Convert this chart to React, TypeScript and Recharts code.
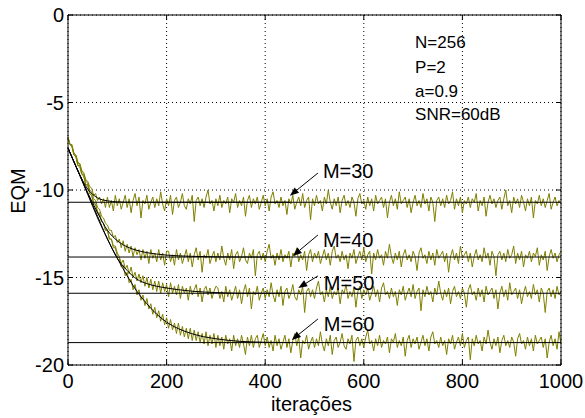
import React from 'react';
import { ComposedChart, Line, XAxis, YAxis, CartesianGrid, ReferenceLine, ReferenceDot } from 'recharts';

// iteration grid (every 4 iterations)
const ITERATIONS: number[] = Array.from({ length: 251 }, (_, i) => i * 4);
const X_TICKS = [0, 200, 400, 600, 800, 1000];
const Y_TICKS = [-20, -15, -10, -5, 0];

const M30_EQM = [
  -7.0, -7.4, -7.4, -7.9, -8.0, -8.4, -8.5, -8.9, -9.0, -9.4, -9.5, -9.8, -9.9, -10.3, -10.2, -10.6, -10.4, -10.8, -10.5, -11.0,
  -10.4, -11.0, -10.6, -11.2, -10.3, -10.9, -10.5, -11.1, -10.7, -10.3,
  -11.0, -10.5, -11.3, -10.6, -10.2, -10.9, -10.4, -11.6, -10.6, -10.8,
  -10.3, -11.1, -10.7, -10.4, -11.0, -10.5, -10.9, -10.1, -10.8, -11.2,
  -10.5, -10.9, -10.3, -11.4, -10.6, -10.4, -11.0, -10.7, -10.2, -10.9,
  -11.1, -10.5, -10.8, -10.3, -11.8, -10.6, -10.4, -10.9, -10.5, -11.0,
  -10.4, -10.0, -10.8, -10.6, -11.2, -10.5, -10.9, -10.3, -11.0, -10.6,
  -10.8, -10.4, -11.3, -10.5, -10.7, -10.2, -11.0, -10.6, -10.9, -10.4,
  -11.5, -10.6, -10.3, -11.0, -10.5, -10.8, -10.4, -11.1, -10.7, -10.3,
  -10.9, -10.5, -11.2, -10.4, -10.1, -10.8, -10.6, -11.0, -10.4, -10.9,
  -10.6, -11.4, -10.5, -10.8, -10.3, -11.1, -10.7, -10.4, -10.9, -10.2,
  -11.0, -10.6, -10.4, -11.7, -10.5, -10.9, -10.3, -10.8, -10.6, -11.2,
  -10.4, -10.8, -10.0, -10.7, -11.1, -10.5, -10.9, -10.4, -11.3, -10.6,
  -10.3, -10.9, -10.6, -11.0, -10.4, -10.7, -11.5, -10.5, -10.2, -10.8,
  -10.6, -11.1, -10.4, -10.9, -10.5, -11.2, -10.3, -10.8, -10.6, -10.4,
  -11.0, -10.5, -11.6, -10.7, -10.3, -10.9, -10.5, -11.1, -10.1, -10.8,
  -10.6, -10.4, -11.0, -10.5, -11.3, -10.7, -10.3, -10.9, -10.6, -11.0,
  -10.2, -10.8, -10.5, -11.2, -10.4, -10.7, -11.8, -10.6, -10.4, -10.9,
  -10.5, -11.0, -10.3, -10.8, -10.6, -10.1, -11.1, -10.5, -10.9, -10.4,
  -11.3, -10.6, -10.8, -10.4, -11.0, -10.5, -10.7, -10.2, -11.2, -10.6,
  -10.9, -10.4, -11.5, -10.7, -10.3, -10.8, -10.5, -11.0, -10.6, -10.4,
  -11.1, -10.5, -10.0, -10.9, -10.6, -11.3, -10.4, -10.8, -10.5, -11.0,
  -10.3, -10.7, -11.2, -10.5, -10.9, -10.4, -11.6, -10.6, -10.8, -10.3,
  -10.9, -10.5, -11.0, -10.6, -10.2, -11.1, -10.7, -10.4, -10.9, -10.6,
  -10.8,
];

const M40_EQM = [
  -7.0, -7.4, -7.5, -7.9, -8.0, -8.5, -8.5, -9.0, -9.1, -9.5, -9.6, -10.0, -10.1,
  -10.5, -10.6, -11.0, -11.1, -11.5, -11.6, -11.9, -12.0, -12.3, -12.3, -12.7, -12.6, -13.0,
  -12.8, -13.3, -12.9, -13.5, -13.1, -13.6, -13.2, -13.8, -13.3, -13.7, -13.4, -14.0, -13.4,
  -13.9, -13.5, -14.2, -13.4, -13.9, -13.6, -14.1, -13.4, -14.0, -13.6, -14.3, -13.5,
  -13.5, -14.1, -13.7, -14.3, -13.4, -14.0, -13.6, -14.2, -13.8, -13.4,
  -14.1, -13.6, -14.4, -13.7, -13.3, -14.0, -13.5, -14.7, -13.7, -13.9,
  -13.4, -14.2, -13.8, -13.5, -14.1, -13.6, -14.0, -13.2, -13.9, -14.3,
  -13.6, -14.0, -13.4, -14.5, -13.7, -13.5, -14.1, -13.8, -13.3, -14.0,
  -14.2, -13.6, -13.9, -13.4, -14.9, -13.7, -13.5, -14.0, -13.6, -14.1,
  -13.5, -13.1, -13.9, -13.7, -14.3, -13.6, -14.0, -13.4, -14.1, -13.7,
  -13.9, -13.5, -14.4, -13.6, -13.8, -13.3, -14.1, -13.7, -14.0, -13.5,
  -14.6, -13.7, -13.4, -14.1, -13.6, -13.9, -13.5, -14.2, -13.8, -13.4,
  -14.0, -13.6, -14.3, -13.5, -13.2, -13.9, -13.7, -14.1, -13.5, -14.0,
  -13.7, -14.5, -13.6, -13.9, -13.4, -14.2, -13.8, -13.5, -14.0, -13.3,
  -14.1, -13.7, -13.5, -14.8, -13.6, -14.0, -13.4, -13.9, -13.7, -14.3,
  -13.5, -13.9, -13.1, -13.8, -14.2, -13.6, -14.0, -13.5, -14.4, -13.7,
  -13.4, -14.0, -13.7, -14.1, -13.5, -13.8, -14.6, -13.6, -13.3, -13.9,
  -13.7, -14.2, -13.5, -14.0, -13.6, -14.3, -13.4, -13.9, -13.7, -13.5,
  -14.1, -13.6, -14.7, -13.8, -13.4, -14.0, -13.6, -14.2, -13.2, -13.9,
  -13.7, -13.5, -14.1, -13.6, -14.4, -13.8, -13.4, -14.0, -13.7, -14.1,
  -13.3, -13.9, -13.6, -14.3, -13.5, -13.8, -14.9, -13.7, -13.5, -14.0,
  -13.6, -14.1, -13.4, -13.9, -13.7, -13.2, -14.2, -13.6, -14.0, -13.5,
  -14.4, -13.7, -13.9, -13.5, -14.1, -13.6, -13.8, -13.3, -14.3, -13.7,
  -14.0, -13.5, -14.6, -13.8, -13.4, -13.9, -13.6, -14.1, -13.7, -13.5,
];

const M50_EQM = [
  -7.0, -7.4, -7.5, -8.0, -8.1, -8.6, -8.7, -9.1, -9.2, -9.7, -9.7, -10.2, -10.3,
  -10.8, -10.8, -11.3, -11.4, -11.8, -11.9, -12.3, -12.3, -12.8, -12.8, -13.2, -13.2, -13.6,
  -13.8, -14.2, -14.0, -14.5, -14.3, -14.8, -14.4, -15.0, -14.7, -15.2,
  -14.8, -15.3, -14.9, -15.5, -15.0, -15.6, -15.1, -15.7, -15.2, -15.8,
  -15.2, -15.9, -15.3, -15.8, -15.4, -16.1, -15.3, -15.9, -15.5, -16.0,
  -15.4, -16.2, -15.5, -15.9, -15.6, -16.3, -15.5, -16.0, -15.7, -15.4,
  -16.1, -15.6, -16.4, -15.7, -15.5, -16.0, -15.6, -16.2, -15.8, -15.5,
  -15.6, -16.2, -15.8, -16.4, -15.5, -16.1, -15.7, -16.3, -15.9, -15.5,
  -16.2, -15.7, -16.5, -15.8, -15.4, -16.1, -15.6, -16.8, -15.8, -16.0,
  -15.5, -16.3, -15.9, -15.6, -16.2, -15.7, -16.1, -15.3, -16.0, -16.4,
  -15.7, -16.1, -15.5, -16.6, -15.8, -15.6, -16.2, -15.9, -15.4, -16.1,
  -16.3, -15.7, -16.0, -15.5, -17.0, -15.8, -15.6, -16.1, -15.7, -16.2,
  -15.6, -15.2, -16.0, -15.8, -16.4, -15.7, -16.1, -15.5, -16.2, -15.8,
  -16.0, -15.6, -16.5, -15.7, -15.9, -15.4, -16.2, -15.8, -16.1, -15.6,
  -16.7, -15.8, -15.5, -16.2, -15.7, -16.0, -15.6, -16.3, -15.9, -15.5,
  -16.1, -15.7, -16.4, -15.6, -15.3, -16.0, -15.8, -16.2, -15.6, -16.1,
  -15.8, -16.6, -15.7, -16.0, -15.5, -16.3, -15.9, -15.6, -16.1, -15.4,
  -16.2, -15.8, -15.6, -16.9, -15.7, -16.1, -15.5, -16.0, -15.8, -16.4,
  -15.6, -16.0, -15.2, -15.9, -16.3, -15.7, -16.1, -15.6, -16.5, -15.8,
  -15.5, -16.1, -15.8, -16.2, -15.6, -15.9, -16.7, -15.7, -15.4, -16.0,
  -15.8, -16.3, -15.6, -16.1, -15.7, -16.4, -15.5, -16.0, -15.8, -15.6,
  -16.2, -15.7, -16.8, -15.9, -15.5, -16.1, -15.7, -16.3, -15.3, -16.0,
  -15.8, -15.6, -16.2, -15.7, -16.5, -15.9, -15.5, -16.1, -15.8, -16.2,
  -15.4, -16.0, -15.7, -16.4, -15.6, -15.9, -17.0, -15.8, -15.6, -16.1,
  -15.7, -16.2, -15.5, -16.0, -15.8,
];

const M60_EQM = [
  -7.0, -7.4, -7.5, -8.0, -8.1, -8.6, -8.6, -9.1, -9.2, -9.7, -9.7, -10.2, -10.3,
  -10.7, -10.8, -11.3, -11.3, -11.8, -11.9, -12.3, -12.3, -12.8, -12.8, -13.3, -13.3, -13.8,
  -13.9, -14.4, -14.3, -14.9, -14.7, -15.3, -15.1, -15.7, -15.4, -16.0,
  -15.7, -16.3, -16.0, -16.6, -16.2, -16.8, -16.5, -17.1, -16.7, -17.3,
  -16.9, -17.5, -17.1, -17.7, -17.3, -17.9, -17.4, -18.0, -17.6, -18.2,
  -17.6, -18.3, -17.8, -18.4, -17.9, -18.5, -17.9, -18.6, -18.0, -18.6,
  -18.1, -18.7, -18.2, -18.8, -18.1, -18.9, -18.3, -18.8, -18.2, -19.0,
  -18.3, -18.9, -18.4, -19.1, -18.3, -18.8, -18.5, -19.2, -18.3, -18.9,
  -18.5, -19.0, -18.3, -18.8, -19.4, -18.4, -18.9, -18.3, -19.0, -18.5,
  -18.3, -19.0, -18.6, -18.2, -18.9,
  -18.4, -19.0, -18.6, -19.2, -18.3, -18.9, -18.5, -19.1, -18.7, -18.3,
  -19.0, -18.5, -19.3, -18.6, -18.2, -18.9, -18.4, -19.6, -18.6, -18.8,
  -18.3, -19.1, -18.7, -18.4, -19.0, -18.5, -18.9, -18.1, -18.8, -19.2,
  -18.5, -18.9, -18.3, -19.4, -18.6, -18.4, -19.0, -18.7, -18.2, -18.9,
  -19.1, -18.5, -18.8, -18.3, -19.8, -18.6, -18.4, -18.9, -18.5, -19.0,
  -18.4, -18.0, -18.8, -18.6, -19.2, -18.5, -18.9, -18.3, -19.0, -18.6,
  -18.8, -18.4, -19.3, -18.5, -18.7, -18.2, -19.0, -18.6, -18.9, -18.4,
  -19.5, -18.6, -18.3, -19.0, -18.5, -18.8, -18.4, -19.1, -18.7, -18.3,
  -18.9, -18.5, -19.2, -18.4, -18.1, -18.8, -18.6, -19.0, -18.4, -18.9,
  -18.6, -19.4, -18.5, -18.8, -18.3, -19.1, -18.7, -18.4, -18.9, -18.2,
  -19.0, -18.6, -18.4, -19.7, -18.5, -18.9, -18.3, -18.8, -18.6, -19.2,
  -18.4, -18.8, -18.0, -18.7, -19.1, -18.5, -18.9, -18.4, -19.3, -18.6,
  -18.3, -18.9, -18.6, -19.0, -18.4, -18.7, -19.5, -18.5, -18.2, -18.8,
  -18.6, -19.1, -18.4, -18.9, -18.5, -19.2, -18.3, -18.8, -18.6, -18.4,
  -19.0, -18.5, -19.6, -18.7, -18.3, -18.9, -18.5, -19.1, -18.1, -18.8,
];

// theoretical (smooth) curves
const THEORY_ITERS = [0, 20, 40, 60, 80, 100, 120, 140, 160, 180, 200, 250, 300, 350, 400, 450];
const M30_THEORY = [-7.6, -8.9, -9.95, -10.45, -10.62, -10.68, -10.7, -10.7, -10.7, -10.7, -10.7, -10.7, -10.7, -10.7, -10.7, -10.7];
const M40_THEORY = [-7.6, -8.9, -10.15, -11.3, -12.3, -12.9, -13.25, -13.45, -13.58, -13.66, -13.72, -13.79, -13.82, -13.83, -13.83, -13.83];
const M50_THEORY = [-7.6, -8.9, -10.2, -11.5, -12.8, -13.9, -14.6, -15.1, -15.35, -15.5, -15.6, -15.78, -15.86, -15.9, -15.9, -15.9];
const M60_THEORY = [-7.6, -8.9, -10.25, -11.6, -12.8, -13.9, -14.9, -15.8, -16.5, -17.1, -17.55, -18.2, -18.5, -18.65, -18.7, -18.72];

const STEADY_LEVELS = [-10.7, -13.83, -15.9, -18.72];
const M_LABELS = ['M=30', 'M=40', 'M=50', 'M=60'];
const PARAM_LABELS = ['N=256', 'P=2', 'a=0.9', 'SNR=60dB'];

// annotation anchors (data coordinates)
const ARROW_FROM = [
  { x: 507, y: -9.03 }, { x: 507, y: -12.57 }, { x: 507, y: -14.91 }, { x: 507, y: -17.37 },
];
const ARROW_TO = [
  { x: 450, y: -10.33 }, { x: 456, y: -13.77 }, { x: 467, y: -15.6 }, { x: 454, y: -18.57 },
];
const M_LABEL_POS = [
  { x: 517, y: -9.31 }, { x: 517, y: -13.24 }, { x: 519, y: -15.71 }, { x: 519, y: -18.04 },
];
const PARAM_X = 704;
const PARAM_Y = [-1.9, -3.3, -4.67, -6.0];

const OLIVE = '#808000';
const FONT = '"Liberation Sans", Arial, Helvetica, sans-serif';
const PT = 15, PB = 365, PL = 68, PR = 561;

const eqmSeries = [M30_EQM, M40_EQM, M50_EQM, M60_EQM].map((arr) =>
  ITERATIONS.map((x, i) => ({ x, y: arr[i] }))
);
const theorySeries = [M30_THEORY, M40_THEORY, M50_THEORY, M60_THEORY].map((arr) =>
  THEORY_ITERS.map((x, i) => ({ x, y: arr[i] }))
);
const levelSeries = STEADY_LEVELS.map((v) => [{ x: 0, y: v }, { x: 1000, y: v }]);

const XTick = (props: any) => {
  const { x, payload } = props;
  return (
    <g>
      <line x1={x} x2={x} y1={PB} y2={PB - 5} stroke="#000" />
      <line x1={x} x2={x} y1={PT} y2={PT + 5} stroke="#000" />
      <text x={x} y={388} textAnchor="middle" fontFamily={FONT} fontSize={20} fill="#000">
        {payload.value}
      </text>
    </g>
  );
};

const YTick = (props: any) => {
  const { y, payload } = props;
  return (
    <g>
      <line x1={PL} x2={PL + 5} y1={y} y2={y} stroke="#000" />
      <line x1={PR} x2={PR - 5} y1={y} y2={y} stroke="#000" />
      <text x={64} y={y + 7} textAnchor="end" fontFamily={FONT} fontSize={20} fill="#000">
        {payload.value}
      </text>
    </g>
  );
};

const YLabel = (props: any) => {
  const vb = props.viewBox || { x: 0, y: PT, width: PL, height: PB - PT };
  const cx = 18;
  const cy = vb.y + vb.height / 2 + 1;
  return (
    <text x={cx} y={cy} transform={`rotate(-90 ${cx} ${cy})`} textAnchor="middle" dominantBaseline="central"
      fontFamily={FONT} fontSize={20} fill="#000">EQM</text>
  );
};

const XLabel = (props: any) => {
  const vb = props.viewBox || { x: PL, y: PB, width: PR - PL, height: 30 };
  const cx = vb.x + vb.width / 2 - 3;
  return (
    <text x={cx} y={411} textAnchor="middle" fontFamily={FONT} fontSize={20} fill="#000">iterações</text>
  );
};

const Arrow = (p: any) => {
  const x1 = Number(p.x1), y1 = Number(p.y1), x2 = Number(p.x2), y2 = Number(p.y2);
  const dx = x2 - x1, dy = y2 - y1;
  const len = Math.hypot(dx, dy) || 1;
  const ux = dx / len, uy = dy / len;
  const L = 9, W = 3.5;
  const bx = x2 - ux * L, by = y2 - uy * L;
  const pts = `${x2},${y2} ${bx - uy * W},${by + ux * W} ${bx + uy * W},${by - ux * W}`;
  return (
    <g>
      <line x1={x1} y1={y1} x2={bx} y2={by} stroke="#000" strokeWidth={1} />
      <polygon points={pts} fill="#000" />
    </g>
  );
};

const textShape = (label: string, size: number) => (p: any) => (
  <text x={p.cx} y={p.cy} fontFamily={FONT} fontSize={size} fill="#000" textAnchor="start">{label}</text>
);

export default function App() {
  return (
    <div style={{ position: 'absolute', left: 0, top: 0, width: 585, height: 418, background: '#fff' }}>
      <ComposedChart width={585} height={418} margin={{ top: PT, right: 585 - PR, bottom: 23, left: 0 }}>
        <CartesianGrid stroke="#000" strokeDasharray="1 3" strokeWidth={1} />
        <XAxis
          dataKey="x"
          type="number"
          domain={[0, 1000]}
          ticks={X_TICKS}
          height={30}
          tickLine={false}
          axisLine={{ stroke: '#000' }}
          tick={<XTick />}
          interval={0}
          label={<XLabel />}
        />
        <YAxis
          type="number"
          domain={[-20, 0]}
          ticks={Y_TICKS}
          width={PL}
          tickLine={false}
          axisLine={{ stroke: '#000' }}
          tick={<YTick />}
          interval={0}
          label={<YLabel />}
        />
        {eqmSeries.map((d, i) => (
          <Line key={'eqm' + i} data={d} dataKey="y" type="linear" stroke={OLIVE} strokeWidth={1}
            dot={false} activeDot={false} isAnimationActive={false} />
        ))}
        {theorySeries.map((d, i) => (
          <Line key={'th' + i} data={d} dataKey="y" type="monotone" stroke="#000" strokeWidth={1}
            dot={false} activeDot={false} isAnimationActive={false} />
        ))}
        {levelSeries.map((d, i) => (
          <Line key={'lv' + i} data={d} dataKey="y" type="linear" stroke="#000" strokeWidth={1}
            dot={false} activeDot={false} isAnimationActive={false} />
        ))}
        <ReferenceLine y={0} stroke="#000" />
        <ReferenceLine x={1000} stroke="#000" />
        {M_LABELS.map((lab, i) => (
          <ReferenceLine key={'ar' + i} segment={[ARROW_FROM[i], ARROW_TO[i]]} stroke="#000" shape={Arrow} />
        ))}
        {M_LABELS.map((lab, i) => (
          <ReferenceDot key={'ml' + i} x={M_LABEL_POS[i].x} y={M_LABEL_POS[i].y} r={0} shape={textShape(lab, 20)} />
        ))}
        {PARAM_LABELS.map((lab, i) => (
          <ReferenceDot key={'pl' + i} x={PARAM_X} y={PARAM_Y[i]} r={0} shape={textShape(lab, 17)} />
        ))}
      </ComposedChart>
    </div>
  );
}
